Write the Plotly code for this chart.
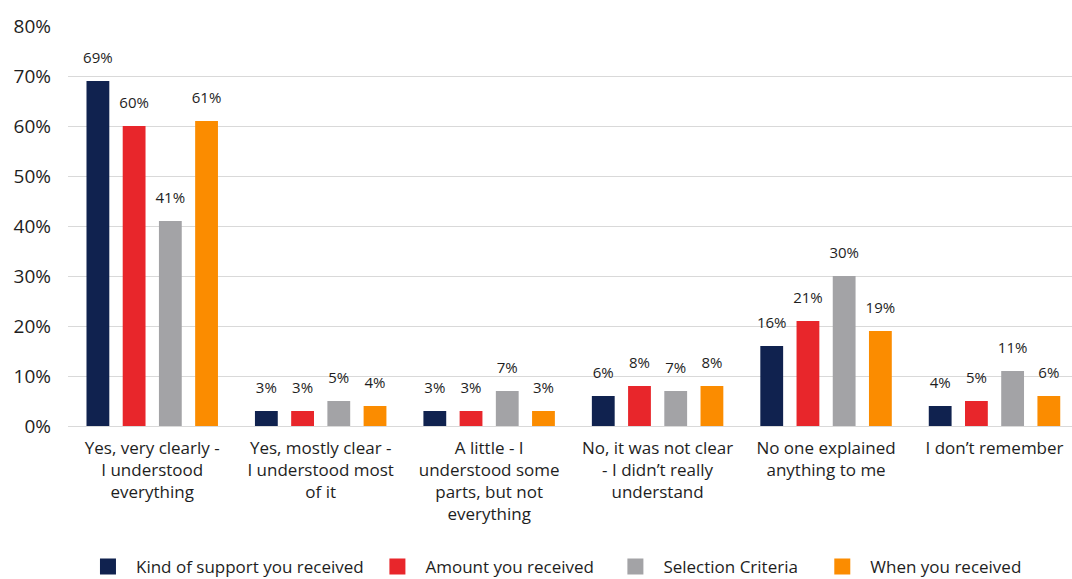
import plotly.graph_objects as go

# Survey response categories (x axis)
categories = [
    "Yes, very clearly -<br>I understood<br>everything",
    "Yes, mostly clear -<br>I understood most<br>of it",
    "A little - I<br>understood some<br>parts, but not<br>everything",
    "No, it was not clear<br>- I didn\u2019t really<br>understand",
    "No one explained<br>anything to me",
    "I don\u2019t remember",
]

# Share of respondents (%) per series
kind_of_support = [69, 3, 3, 6, 16, 4]
amount_received = [60, 3, 3, 8, 21, 5]
selection_criteria = [41, 5, 7, 7, 30, 11]
when_received = [61, 4, 3, 8, 19, 6]

# Y axis ticks
y_tick_values = [0, 10, 20, 30, 40, 50, 60, 70, 80]
y_tick_labels = ["0%", "10%", "20%", "30%", "40%", "50%", "60%", "70%", "80%"]

series_names = [
    "Kind of support you received",
    "Amount you received",
    "Selection Criteria",
    "When you received",
]
series_values = [kind_of_support, amount_received, selection_criteria, when_received]
colors = ["#10224f", "#e8262b", "#a3a3a6", "#fb8c00"]
legend_ids = ["legend", "legend2", "legend3", "legend4"]
legend_x = [0.0746, 0.3446, 0.5666, 0.7596]

FONT = "Open Sans"
TEXT_COLOR = "#1e1e1e"
GAP = 0.14

fig = go.Figure()

for i, (name, vals, col) in enumerate(zip(series_names, series_values, colors)):
    fig.add_trace(go.Bar(
        x=categories,
        y=vals,
        name=name,
        offsetgroup=str(i),
        marker=dict(color=col, line=dict(width=0)),
        showlegend=False,
    ))

# Value labels, grouped to sit above their bars
for i, (name, vals) in enumerate(zip(series_names, series_values)):
    fig.add_trace(go.Scatter(
        x=categories,
        y=vals,
        name=name,
        offsetgroup=str(i),
        mode="markers+text",
        marker=dict(size=22, color="rgba(0,0,0,0)"),
        text=[f"{v}%" for v in vals],
        textposition="top center",
        textfont=dict(size=15, color=TEXT_COLOR, family=FONT),
        cliponaxis=False,
        showlegend=False,
        hoverinfo="skip",
    ))

# Legend entries with larger square swatches
for name, col, lid in zip(series_names, colors, legend_ids):
    fig.add_trace(go.Scatter(
        x=[None], y=[None],
        mode="markers",
        name=name,
        marker=dict(symbol="square", size=20, color=col),
        showlegend=True,
        legend=lid,
    ))

legend_common = dict(
    orientation="h",
    xref="container",
    yref="container",
    xanchor="left",
    yanchor="middle",
    y=0.021,
    font=dict(size=17, color=TEXT_COLOR, family=FONT),
    itemwidth=46,
    bgcolor="rgba(0,0,0,0)",
)

layout_legends = {lid: dict(legend_common, x=lx) for lid, lx in zip(legend_ids, legend_x)}

fig.update_layout(
    width=1072,
    height=579,
    margin=dict(l=68, r=0, t=26, b=153),
    paper_bgcolor="white",
    plot_bgcolor="white",
    barmode="group",
    bargap=GAP,
    bargroupgap=0.37,
    scattermode="group",
    scattergap=GAP,
    font=dict(family=FONT, color=TEXT_COLOR, size=16),
    xaxis=dict(
        type="category",
        range=[-0.5, 5.46],
        showgrid=False,
        showline=False,
        ticks="",
        tickfont=dict(size=17, color=TEXT_COLOR, family=FONT),
        tickangle=0,
        ticklabelstandoff=10,
    ),
    yaxis=dict(
        range=[0, 80],
        tickvals=y_tick_values,
        ticktext=y_tick_labels,
        showgrid=True,
        gridcolor="#d9d9d9",
        gridwidth=1,
        zeroline=True,
        zerolinecolor="#d9d9d9",
        zerolinewidth=1,
        showline=False,
        ticks="",
        ticklabelstandoff=16,
        tickfont=dict(size=19, color=TEXT_COLOR, family=FONT),
    ),
    **layout_legends,
)

fig.write_html("out.html")
